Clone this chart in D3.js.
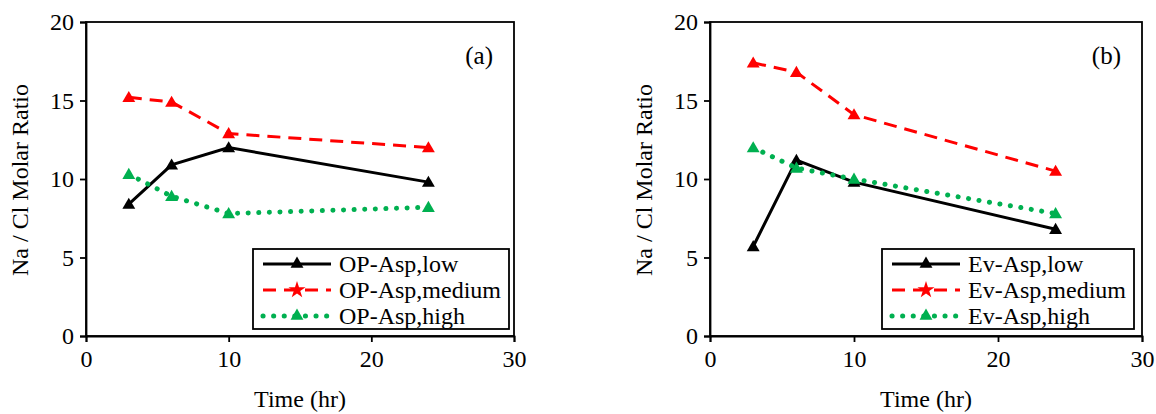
<!DOCTYPE html>
<html>
<head>
<meta charset="utf-8">
<script src="https://cdn.jsdelivr.net/npm/d3@7"></script>
<style>
  body { margin: 0; background: #fff; }
</style>
</head>
<body>
<div id="chart"></div>
<script>
// time points (hr)
const times = [3, 6, 10, 24];
const xTicks = [0, 10, 20, 30];
const yTicks = [0, 5, 10, 15, 20];

// panel (a)
const opLow = [8.4, 10.9, 12.0, 9.8];
const opMedium = [15.2, 14.9, 12.9, 12.0];
const opHigh = [10.3, 8.9, 7.8, 8.2];
const opNames = ["OP-Asp,low", "OP-Asp,medium", "OP-Asp,high"];

// panel (b)
const evLow = [5.7, 11.2, 9.8, 6.8];
const evMedium = [17.4, 16.8, 14.1, 10.5];
const evHigh = [12.0, 10.7, 10.0, 7.8];
const evNames = ["Ev-Asp,low", "Ev-Asp,medium", "Ev-Asp,high"];

const FONT = "'Liberation Serif', 'Times New Roman', Times, serif";

const styles = [
  {color: "#000000", dash: null, cap: "butt", width: 3},
  {color: "#FF0000", dash: "13,8", cap: "butt", width: 3},
  {color: "#00B050", dash: "0.1,10.5", cap: "round", width: 5}
];

const W = 1156, H = 414;
const svg = d3.select("#chart").append("svg").attr("width", W).attr("height", H)
  .style("font-family", FONT);

function panel(left, right, series, names, tag, legLeft, legRight) {
  const top = 22, bottom = 336;
  const g = svg.append("g");
  const x = d3.scaleLinear().domain([0, 30]).range([left, right]);
  const y = d3.scaleLinear().domain([0, 20]).range([bottom, top]);

  // frame
  g.append("rect").attr("x", left).attr("y", top)
    .attr("width", right - left).attr("height", bottom - top)
    .attr("fill", "none").attr("stroke", "#000").attr("stroke-width", 1.8);

  const xAxis = g.append("g").attr("transform", `translate(0,${bottom})`)
    .call(d3.axisBottom(x).tickValues(xTicks).tickSize(6).tickPadding(8));
  const yAxis = g.append("g").attr("transform", `translate(${left},0)`)
    .call(d3.axisLeft(y).tickValues(yTicks).tickSize(6).tickPadding(6));
  [xAxis, yAxis].forEach(a => {
    a.attr("font-family", null).attr("font-size", null);
    a.select(".domain").attr("stroke-width", 1.8);
    a.selectAll(".tick line").attr("stroke-width", 1.8);
    a.selectAll("text").style("font-family", FONT).style("font-size", "24px");
  });

  g.append("text").attr("x", (left + right) / 2).attr("y", 407)
    .attr("text-anchor", "middle").style("font-size", "24px").text("Time (hr)");
  g.append("text")
    .attr("transform", `translate(${left - 58},${(top + bottom) / 2 + 1}) rotate(-90)`)
    .attr("text-anchor", "middle").style("font-size", "24px").text("Na / Cl Molar Ratio");
  g.append("text").attr("x", right - 21).attr("y", 64)
    .attr("text-anchor", "end").style("font-size", "25px").text(tag);

  const line = d3.line().x((d, i) => x(times[i])).y(d => y(d));
  const tri = d3.symbol().type(d3.symbolTriangle).size(72);

  series.forEach((vals, k) => {
    const s = styles[k];
    g.append("path").datum(vals).attr("d", line).attr("fill", "none")
      .attr("stroke", s.color).attr("stroke-width", s.width)
      .attr("stroke-dasharray", s.dash).attr("stroke-linecap", s.cap);
    g.selectAll(null).data(vals).join("path")
      .attr("transform", (d, i) => `translate(${x(times[i])},${y(d) + 1})`)
      .attr("d", tri).attr("fill", s.color);
  });

  // legend
  const legTop = 249, legBottom = 329;
  g.append("rect").attr("x", legLeft).attr("y", legTop)
    .attr("width", legRight - legLeft).attr("height", legBottom - legTop)
    .attr("fill", "#fff").attr("stroke", "#000").attr("stroke-width", 1.8);
  names.forEach((n, k) => {
    const s = styles[k];
    const ry = legTop + 15 + k * 26;
    g.append("line").attr("x1", legLeft + 10).attr("x2", legLeft + 78)
      .attr("y1", ry).attr("y2", ry)
      .attr("stroke", s.color).attr("stroke-width", s.width)
      .attr("stroke-dasharray", s.dash).attr("stroke-linecap", s.cap);
    g.append("path").attr("transform", `translate(${legLeft + 44},${ry})`)
      .attr("d", k === 1 ? d3.symbol().type(d3.symbolStar).size(90)() : tri())
      .attr("fill", s.color);
    g.append("text").attr("x", legLeft + 86).attr("y", ry + 8)
      .style("font-size", "24px").text(n);
  });
}

panel(86, 514, [opLow, opMedium, opHigh], opNames, "(a)", 253, 509);
panel(710, 1142, [evLow, evMedium, evHigh], evNames, "(b)", 882, 1134);
</script>
</body>
</html>
